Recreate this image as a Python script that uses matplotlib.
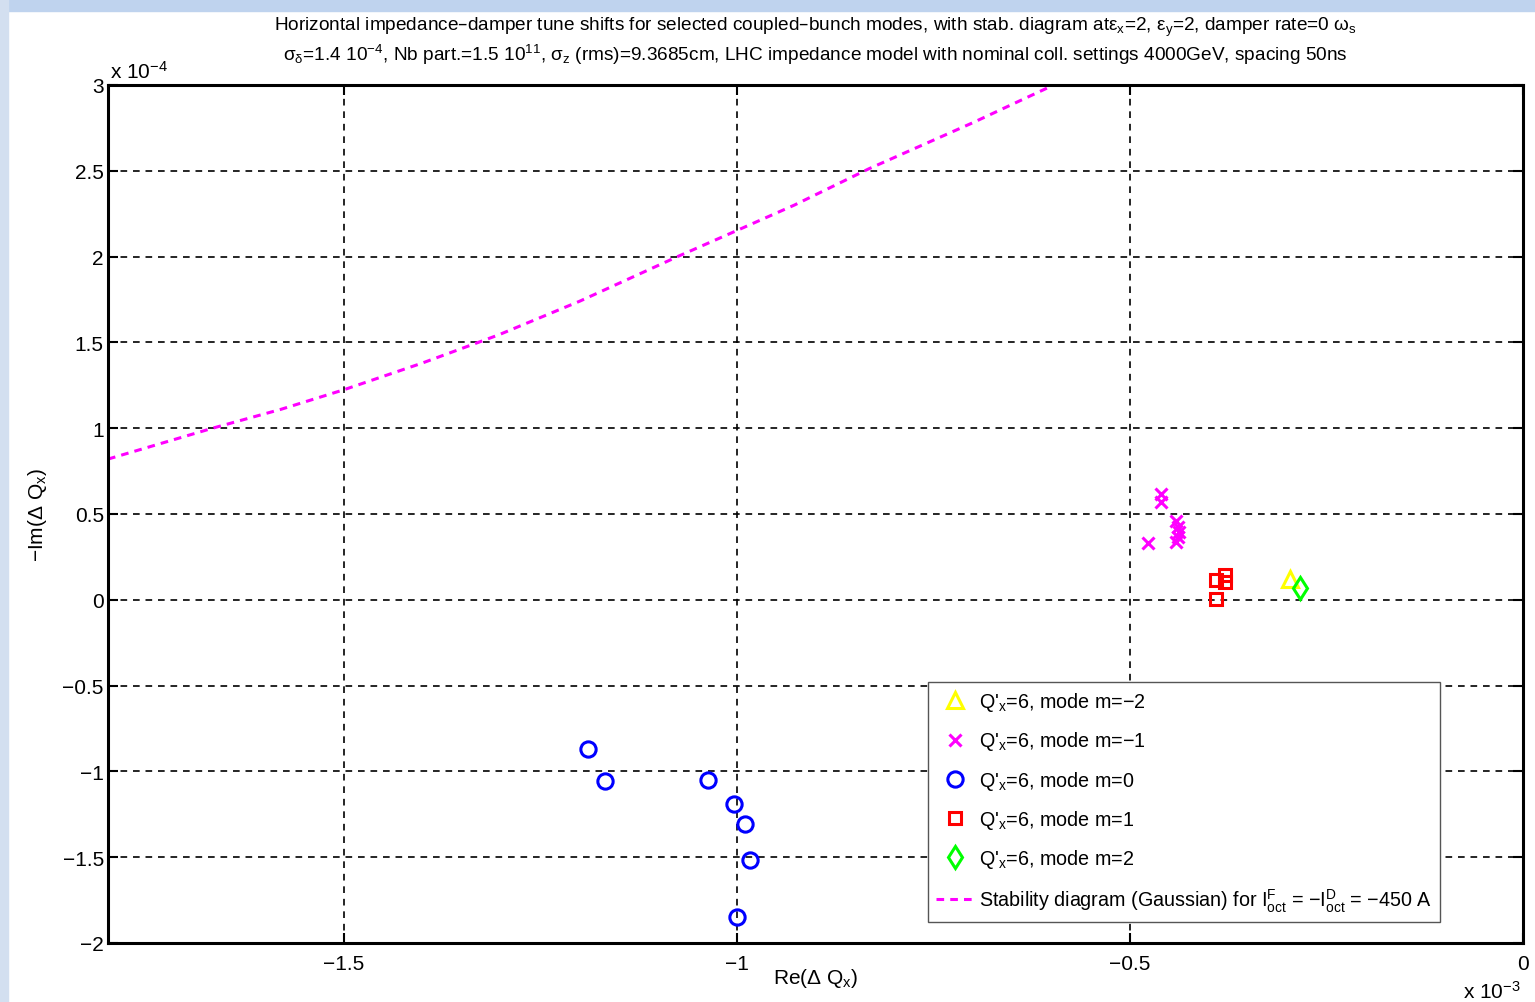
import numpy as np
import matplotlib
matplotlib.use('Agg')
from matplotlib import pyplot as plt
from matplotlib.patches import Rectangle

plt.rcParams['font.family'] = ['Liberation Sans', 'DejaVu Sans']
plt.rcParams['mathtext.default'] = 'regular'
plt.rcParams['axes.unicode_minus'] = True

# data in units of 1e-3 (Re) and 1e-4 (-Im)
m_m2_re = [-0.297]
m_m2_im = [0.122]

m_m1_re = [-0.461, -0.460, -0.477, -0.442, -0.439, -0.438, -0.442, -0.439]
m_m1_im = [0.618, 0.569, 0.332, 0.462, 0.424, 0.394, 0.336, 0.365]

m_0_re = [-1.190, -1.168, -1.037, -1.004, -0.990, -0.983, -1.000]
m_0_im = [-0.868, -1.057, -1.053, -1.189, -1.309, -1.519, -1.849]

m_1_re = [-0.391, -0.379, -0.379, -0.390]
m_1_im = [0.113, 0.142, 0.103, 0.002]

m_2_re = [-0.284]
m_2_im = [0.068]

stab_re = [-1.80, -1.667, -1.58, -1.50, -1.40, -1.303, -1.20, -1.074, -1.00,
           -0.927, -0.832, -0.70, -0.597, -0.55]
stab_im = [0.82, 1.00, 1.11, 1.224, 1.38, 1.544, 1.74, 2.003, 2.152,
           2.30, 2.512, 2.78, 3.00, 3.09]

xticks = [-1.5, -1, -0.5, 0]
xticklabels = ['\u22121.5', '\u22121', '\u22120.5', '0']
yticks = [3, 2.5, 2, 1.5, 1, 0.5, 0, -0.5, -1, -1.5, -2]
yticklabels = ['3', '2.5', '2', '1.5', '1', '0.5', '0', '\u22120.5', '\u22121', '\u22121.5', '\u22122']

fig = plt.figure(figsize=(15.35, 10.03), dpi=100)

# light blue frame of the window
fig.patches.append(Rectangle((0, 1 - 12 / 1003), 1, 12 / 1003, transform=fig.transFigure,
                             color='#bfd3ee', zorder=0))
fig.patches.append(Rectangle((0, 0), 8 / 1535, 1, transform=fig.transFigure,
                             color='#d3dff0', zorder=0))

ax = fig.add_axes([108 / 1535, 59 / 1003, 1415 / 1535, 858 / 1003])

ax.plot(m_m2_re, m_m2_im, '^', color=(1, 1, 0), mfc='none', ms=12, mew=2.2,
        label="Q'$_x$=6, mode m=\u22122")
ax.plot(m_m1_re, m_m1_im, 'x', color=(1, 0, 1), ms=8, mew=2.2,
        label="Q'$_x$=6, mode m=\u22121")
ax.plot(m_0_re, m_0_im, 'o', color=(0, 0, 1), mfc='none', ms=11, mew=2.2,
        label="Q'$_x$=6, mode m=0")
ax.plot(m_1_re, m_1_im, 's', color=(1, 0, 0), mfc='none', ms=9, mew=2.2,
        label="Q'$_x$=6, mode m=1")
ax.plot(m_2_re, m_2_im, 'd', color=(0, 1, 0), mfc='none', ms=11.5, mew=2.2,
        label="Q'$_x$=6, mode m=2")
ax.plot(stab_re, stab_im, '--', color=(1, 0, 1), lw=2.2, dashes=(2.5, 2),
        label='Stability diagram (Gaussian) for I$^F_{oct}$ = \u2212I$^D_{oct}$ = \u2212450 A')

ax.set_xlim(-1.8, 0)
ax.set_ylim(-2, 3)
ax.set_xticks(xticks)
ax.set_xticklabels(xticklabels)
ax.set_yticks(yticks)
ax.set_yticklabels(yticklabels)
ax.tick_params(direction='in', length=7, width=1.5, labelsize=15, top=True, right=True)
ax.tick_params(axis='x', pad=8)
ax.tick_params(axis='y', pad=3)
ax.grid(True, color='black', linestyle=(0, (4, 3.5)), linewidth=1.2)
for s in ax.spines.values():
    s.set_linewidth(2.2)

ax.set_xlabel('Re(\u0394 Q$_x$)', fontsize=15, labelpad=-5)
ax.set_ylabel('\u2212Im(\u0394 Q$_x$)', fontsize=15, labelpad=10)

fig.text(110 / 1535, 1 - 72 / 1003, 'x 10$^{\u22124}$', fontsize=15, va='center', ha='left')
fig.text(1463 / 1535, 1 - 992 / 1003, 'x 10$^{\u22123}$', fontsize=15, va='center', ha='left')

title = ('Horizontal impedance\u2013damper tune shifts for selected coupled\u2013bunch modes, '
         'with stab. diagram at\u03b5$_x$=2, \u03b5$_y$=2, damper rate=0 \u03c9$_s$\n'
         '\u03c3$_\u03b4$=1.4 10$^{\u22124}$, Nb part.=1.5 10$^{11}$, \u03c3$_z$ (rms)=9.3685cm, '
         'LHC impedance model with nominal coll. settings 4000GeV, spacing 50ns')
ax.set_title(title, fontsize=13.7, linespacing=1.2, pad=18)

leg = ax.legend(loc='upper left', bbox_to_anchor=((928 - 108) / 1415, (944 - 683) / 858),
                borderaxespad=0, fontsize=14.2, handlelength=1.9, handletextpad=0.25,
                labelspacing=0.82, borderpad=0.42, fancybox=False, framealpha=1)
leg.get_frame().set_edgecolor('#555555')
leg.get_frame().set_linewidth(1.0)

fig.savefig('out.png', dpi=100)
